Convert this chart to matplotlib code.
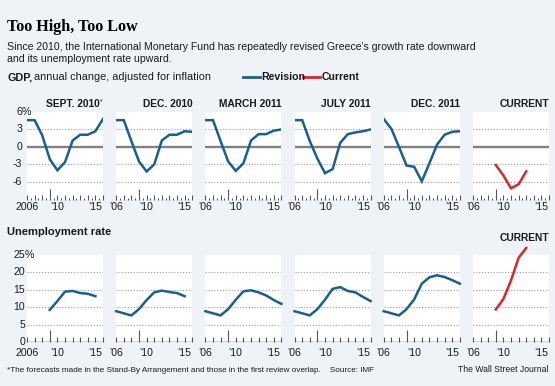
import numpy as np
import matplotlib.pyplot as plt
from matplotlib.lines import Line2D
from matplotlib.transforms import blended_transform_factory

nan = np.nan

years = np.arange(2006, 2017)
current_years = np.arange(2009, 2014)
panel_titles = ['SEPT. 2010', 'DEC. 2010', 'MARCH 2011', 'JULY 2011', 'DEC. 2011', 'CURRENT']

# GDP, annual change (%)
gdp_sep2010 = [4.6, 4.6, 2.0, -2.1, -4.0, -2.6, 1.1, 2.1, 2.1, 2.7, 4.8]
gdp_dec2010 = [4.6, 4.6, 1.0, -2.5, -4.2, -3.0, 1.1, 2.1, 2.1, 2.7, 2.6]
gdp_mar2011 = [4.6, 4.6, 1.0, -2.5, -4.1, -2.8, 1.1, 2.2, 2.2, 2.8, 3.0]
gdp_jul2011 = [4.6, 4.6, 1.0, -2.0, -4.5, -3.8, 0.7, 2.2, 2.5, 2.7, 3.0]
gdp_dec2011 = [4.8, 3.1, 0.0, -3.2, -3.4, -5.9, -2.8, 0.4, 2.1, 2.6, 2.7]
gdp_current = [-3.1, -4.9, -7.1, -6.4, -4.2]

# Unemployment rate (%)
unemp_sep2010 = [nan, nan, nan, 9.3, 11.8, 14.5, 14.7, 14.1, 13.9, 13.2, nan]
unemp_dec2010 = [8.9, 8.3, 7.7, 9.5, 12.1, 14.3, 14.8, 14.4, 14.1, 13.2, nan]
unemp_mar2011 = [8.9, 8.3, 7.7, 9.5, 12.2, 14.6, 14.9, 14.3, 13.4, 12.1, 11.0]
unemp_jul2011 = [8.9, 8.3, 7.7, 9.5, 12.2, 15.3, 15.8, 14.7, 14.3, 13.0, 11.8]
unemp_dec2011 = [8.9, 8.3, 7.7, 9.5, 12.3, 16.8, 18.6, 19.2, 18.7, 17.8, 16.8]
unemp_current = [9.4, 12.4, 17.7, 24.2, 27.0]

gdp_series = [gdp_sep2010, gdp_dec2010, gdp_mar2011, gdp_jul2011, gdp_dec2011, gdp_current]
unemp_series = [unemp_sep2010, unemp_dec2010, unemp_mar2011, unemp_jul2011, unemp_dec2011, unemp_current]

gdp_ticks = [6, 3, 0, -3, -6]
unemp_ticks = [25, 20, 15, 10, 5, 0]

BG = '#eff2f6'
BLUE = '#1b5f8c'
RED = '#d9272e'
GRID = '#9a9a9a'
TXT = '#1a1a1a'
SANS = ['Liberation Sans Narrow', 'Liberation Sans', 'DejaVu Sans']

W, H = 555, 386
fig = plt.figure(figsize=(W / 100, H / 100), dpi=100, facecolor=BG)


def box(left, top, width, height):
    return [left / W, 1 - (top + height) / H, width / W, height / H]


def ftext(x, y, s, **kw):
    kw.setdefault('family', SANS)
    kw.setdefault('color', TXT)
    fig.text(x / W, 1 - y / H, s, va='baseline', **kw)


# headings
ftext(7, 31, 'Too High, Too Low', family=['Liberation Serif', 'DejaVu Serif'],
      fontsize=11.6, fontweight='bold', color='black')
ftext(7, 49.5, 'Since 2010, the International Monetary Fund has repeatedly revised '
      'Greece\u2019s growth rate downward', fontsize=7.6)
ftext(7, 61.5, 'and its unemployment rate upward.', fontsize=7.6)
ftext(7, 80, 'GDP,', fontsize=7.8, fontweight='bold')
ftext(34.5, 80, 'annual change, adjusted for inflation', fontsize=7.8)

# legend
fig.add_artist(Line2D([242.5 / W, 259.5 / W], [1 - 77.3 / H] * 2, color=BLUE, lw=2))
ftext(261.5, 80, 'Revision', fontsize=7.6, fontweight='bold')
fig.add_artist(Line2D([303 / W, 320 / W], [1 - 77.3 / H] * 2, color=RED, lw=2))
ftext(322, 80, 'Current', fontsize=7.6, fontweight='bold')

ftext(7, 235, 'Unemployment rate', fontsize=8.0, fontweight='bold')


def style_xaxis(ax, i, tall_len, pad, half_ticks):
    ax.set_xlim(2006, 2016)
    ax.set_xticks(years)
    labels = []
    for y in years:
        if y == 2006:
            labels.append('2006' if i == 0 else '\u201906')
        elif y in (2010, 2015):
            labels.append('\u2019' + str(y)[2:])
        else:
            labels.append('')
    ax.set_xticklabels(labels, family=SANS, fontsize=7.6, color=TXT)
    ax.tick_params(axis='x', which='major', direction='in', length=3.5, width=0.8,
                   color='#555555', pad=pad)
    if half_ticks:
        ax.set_xticks(years[:-1] + 0.5, minor=True)
        ax.tick_params(axis='x', which='minor', direction='in', length=1.4, width=0.8,
                       color='#555555')
    ax.xaxis.get_major_ticks()[3].tick1line.set_markersize(tall_len)
    ax.set_yticks([])
    for sp in ax.spines.values():
        sp.set_visible(False)


for i in range(6):
    left = 27 + 89.2 * i
    is_current = i == 5
    xs = current_years if is_current else years
    color = RED if is_current else BLUE

    # GDP panel
    ax = fig.add_axes(box(left, 112, 76, 88))
    ax.set_facecolor('white')
    ax.set_ylim(-9.1, 6)
    for v in [3, -3, -6]:
        ax.axhline(v, color=GRID, lw=0.8, ls=(0, (1, 1.6)), zorder=1)
    ax.axhline(0, color='#808080', lw=1.7, zorder=1)
    ax.plot(xs, gdp_series[i], color=color, lw=1.8, solid_joinstyle='miter', zorder=3)
    style_xaxis(ax, i, 8, 1.5, True)
    ax.text(1.0, 1.06, panel_titles[i], transform=ax.transAxes, ha='right',
            va='baseline', family=SANS, fontsize=7.4, fontweight='bold', color=TXT)
    if i == 0:
        ax.texts[-1].set_position((0.955, 1.06))
        ax.text(0.958, 1.10, '*', transform=ax.transAxes, ha='left', va='baseline',
                family=SANS, fontsize=5, color=TXT)
        tr = blended_transform_factory(ax.transAxes, ax.transData)
        for v in gdp_ticks:
            ax.text(-0.065, v, str(v), transform=tr, ha='right', va='center',
                    family=SANS, fontsize=7.6, color=TXT)
        ax.text(-0.065, 6, '%', transform=tr, ha='left', va='center',
                family=SANS, fontsize=7.6, color=TXT)

    # unemployment panel
    ax = fig.add_axes(box(left, 255, 76, 87.3))
    ax.set_facecolor('white')
    ax.set_ylim(0, 25)
    for v in [5, 10, 15, 20]:
        ax.axhline(v, color=GRID, lw=0.8, ls=(0, (1, 1.6)), zorder=1)
    ax.axhline(0, color='#333333', lw=1.0, zorder=2)
    ax.plot(xs, unemp_series[i], color=color, lw=1.8, clip_on=False, zorder=3)
    style_xaxis(ax, i, 8.5, 4, False)
    if is_current:
        ax.text(1.0, 1.155, 'CURRENT', transform=ax.transAxes, ha='right',
                va='baseline', family=SANS, fontsize=7.4, fontweight='bold', color=TXT)
    if i == 0:
        tr = blended_transform_factory(ax.transAxes, ax.transData)
        for v in unemp_ticks:
            ax.text(-0.025, v, str(v), transform=tr, ha='right', va='center',
                    family=SANS, fontsize=7.6, color=TXT)
        ax.text(-0.025, 25, '%', transform=tr, ha='left', va='center',
                family=SANS, fontsize=7.6, color=TXT)

# footer
ftext(7, 372, '*The forecasts made in the Stand-By Arrangement and those in the first '
      'review overlap.    Source: IMF', fontsize=5.9)
fig.text(548 / W, 1 - 372 / H, 'The Wall Street Journal', ha='right', va='baseline',
         family=SANS, fontsize=6.2, color=TXT)

fig.savefig('out.png', dpi=100, facecolor=BG)
